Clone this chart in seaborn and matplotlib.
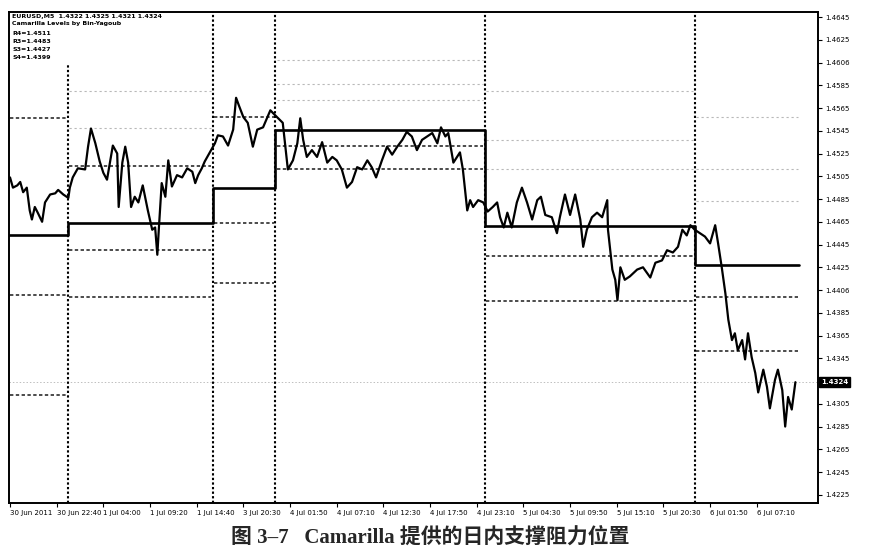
import matplotlib
matplotlib.use("Agg")
import numpy as np
import pandas as pd
import matplotlib.pyplot as plt
import matplotlib.transforms as mtransforms
from matplotlib.patches import Rectangle
import seaborn as sns

# EURUSD M5 close, sampled along the chart (bar index, price)
bars = [0, 4, 10, 14, 18, 23, 27, 30, 34, 38,
        44, 48, 55, 62, 66, 73, 80, 82, 86, 93,
        103, 107, 111, 117, 123, 128, 133, 137, 141, 147,
        149, 154, 158, 162, 166, 171, 176, 182, 189, 195,
        199, 202, 204, 208, 213, 217, 222, 229, 236, 243,
        250, 254, 258, 263, 267, 274, 281, 285, 292, 299,
        306, 310, 314, 320, 326, 333, 339, 347, 357, 363,
        374, 381, 388, 394, 398, 402, 407, 414, 421, 428,
        435, 442, 448, 455, 462, 469, 476, 483, 490, 496,
        502, 510, 517, 524, 531, 538, 544, 551, 558, 565,
        572, 579, 586, 591, 597, 601, 608, 613, 617, 621,
        627, 631, 635, 642, 649, 655, 662, 668, 672, 677,
        682, 688, 695, 702, 709, 716, 723, 728, 734, 743,
        750, 754, 761, 768, 775, 782, 786, 791, 798, 805,
        812, 819, 820, 826, 830, 833, 837, 843, 850, 860,
        868, 878, 885, 894, 901, 909, 916, 922, 928, 933,
        939, 946, 953, 960, 967, 971, 976, 981, 985, 990,
        994, 998, 1004, 1008, 1012, 1017, 1022, 1026, 1033, 1038,
        1042, 1049, 1053, 1059, 1063, 1067, 1072, 1077]

prices = [1.4504, 1.4495, 1.4497, 1.4500, 1.4491, 1.4495, 1.4475, 1.4467, 1.4478, 1.4473,
          1.4465, 1.4482, 1.4489, 1.4490, 1.4493, 1.4489, 1.4486, 1.4495, 1.4504, 1.4512,
          1.4511, 1.4531, 1.4547, 1.4534, 1.4518, 1.4508, 1.4502, 1.4517, 1.4532, 1.4525,
          1.4478, 1.4517, 1.4531, 1.4517, 1.4478, 1.4487, 1.4482, 1.4497, 1.4475, 1.4458,
          1.4460, 1.4436, 1.4458, 1.4499, 1.4487, 1.4519, 1.4496, 1.4506, 1.4504, 1.4512,
          1.4509, 1.4499, 1.4506, 1.4512, 1.4518, 1.4526, 1.4534, 1.4541, 1.4540, 1.4532,
          1.4546, 1.4574, 1.4567, 1.4557, 1.4552, 1.4531, 1.4546, 1.4548, 1.4563, 1.4559,
          1.4552, 1.4511, 1.4519, 1.4534, 1.4556, 1.4537, 1.4522, 1.4528, 1.4522, 1.4535,
          1.4517, 1.4522, 1.4519, 1.4511, 1.4495, 1.4500, 1.4513, 1.4511, 1.4519, 1.4513,
          1.4504, 1.4519, 1.4531, 1.4524, 1.4531, 1.4537, 1.4544, 1.4540, 1.4528, 1.4537,
          1.4540, 1.4543, 1.4534, 1.4548, 1.4540, 1.4543, 1.4517, 1.4522, 1.4526, 1.4511,
          1.4475, 1.4484, 1.4478, 1.4484, 1.4482, 1.4474, 1.4478, 1.4482, 1.4469, 1.4460,
          1.4473, 1.4460, 1.4482, 1.4495, 1.4482, 1.4467, 1.4484, 1.4487, 1.4471, 1.4469,
          1.4455, 1.4469, 1.4489, 1.4471, 1.4489, 1.4467, 1.4443, 1.4458, 1.4469, 1.4473,
          1.4469, 1.4484, 1.4458, 1.4423, 1.4414, 1.4396, 1.4425, 1.4414, 1.4417, 1.4423,
          1.4425, 1.4416, 1.4429, 1.4431, 1.4440, 1.4438, 1.4443, 1.4458, 1.4453, 1.4462,
          1.4458, 1.4455, 1.4452, 1.4446, 1.4462, 1.4446, 1.4425, 1.4402, 1.4379, 1.4361,
          1.4367, 1.4352, 1.4361, 1.4344, 1.4367, 1.4346, 1.4332, 1.4315, 1.4335, 1.4320,
          1.4301, 1.4326, 1.4335, 1.4317, 1.4285, 1.4311, 1.4300, 1.4324]

# daily Camarilla levels
day_starts = [-2, 79, 278, 364, 651, 939]
day_ends = [79, 278, 364, 651, 939, 1082]
main_levels = [1.4453, 1.4464, 1.4495, 1.4546, 1.4461, 1.4427]
dark_levels = [[1.4556, 1.4401, 1.4313],
               [1.4514, 1.4440, 1.4399],
               [1.4557, 1.4464, 1.4411],
               [1.4532, 1.4511],
               [1.4435, 1.4395],
               [1.4399, 1.4351]]
light_levels = [[],
                [1.4580, 1.4547],
                [],
                [1.4607, 1.4586, 1.4572],
                [1.4580, 1.4537, 1.4511],
                [1.4557, 1.4511, 1.4483]]
bid = 1.4324

x_tick_bars = list(range(0, 1025, 64))
x_tick_labels = ["30 Jun 2011", "30 Jun 22:40", "1 Jul 04:00", "1 Jul 09:20",
                 "1 Jul 14:40", "3 Jul 20:30", "4 Jul 01:50", "4 Jul 07:10",
                 "4 Jul 12:30", "4 Jul 17:50", "4 Jul 23:10", "5 Jul 04:30",
                 "5 Jul 09:50", "5 Jul 15:10", "5 Jul 20:30", "6 Jul 01:50",
                 "6 Jul 07:10"]
y_tick_vals = [1.4645, 1.4625, 1.4605, 1.4585, 1.4565, 1.4545, 1.4525, 1.4505,
               1.4485, 1.4465, 1.4445, 1.4425, 1.4405, 1.4385, 1.4365, 1.4345,
               1.4305, 1.4285, 1.4265, 1.4245, 1.4225]
y_tick_labels = ["1.4645", "1.4625", "1.4606", "1.4585", "1.4565", "1.4545", "1.4525",
                 "1.4505", "1.4485", "1.4465", "1.4445", "1.4425", "1.4406", "1.4385",
                 "1.4365", "1.4345", "1.4305", "1.4285", "1.4265", "1.4245", "1.4225"]

header = ["EURUSD,M5  1.4322 1.4325 1.4321 1.4324",
          "Camarilla Levels by Bin-Yagoub",
          "R4=1.4511", "R3=1.4483", "S3=1.4427", "S4=1.4399"]

sns.set_style("white")
plt.rcParams['font.family'] = ['DejaVu Sans', 'Noto Sans CJK SC']

fig = plt.figure(figsize=(8.78, 5.54), dpi=100)
ax = fig.add_axes([9 / 878, 1 - 503 / 554, 809 / 878, 491 / 554])

df = pd.DataFrame({"bar": bars, "price": prices})

# faint levels, dashed levels
for i in range(len(day_starts)):
    for lv in light_levels[i]:
        ax.hlines(lv, day_starts[i] + 2, day_ends[i] - 2, colors="0.72",
                  linestyles=(0, (2, 2.5)), linewidth=0.8)
    for lv in dark_levels[i]:
        ax.hlines(lv, day_starts[i] + 2, day_ends[i] - 2, colors="0.1",
                  linestyles=(0, (2.2, 1.6)), linewidth=1.1)

# bid line
ax.axhline(bid, color="0.75", linestyle=(0, (1.5, 2)), linewidth=0.7)

# day separators
for b in day_starts[1:]:
    ax.axvline(b, color="black", linestyle=(0, (1.1, 1.1)), linewidth=1.5)

# main level as step line
steps = pd.DataFrame({"bar": day_starts + [day_ends[-1]],
                      "level": main_levels + [main_levels[-1]]})
sns.lineplot(data=steps, x="bar", y="level", ax=ax, color="black",
             linewidth=1.9, drawstyle="steps-post", estimator=None, sort=False)

sns.lineplot(data=df, x="bar", y="price", ax=ax, color="black",
             linewidth=1.6, estimator=None, sort=False)

ax.set_xlim(-1.4, 1108)
ax.set_ylim(1.42178, 1.46494)
ax.set_xlabel("")
ax.set_ylabel("")

ax.yaxis.tick_right()
ax.set_yticks(y_tick_vals, labels=y_tick_labels)
ax.set_xticks(x_tick_bars, labels=x_tick_labels)
for lbl in ax.get_xticklabels():
    lbl.set_ha("left")
    lbl.set_fontsize(4.6)
ax.tick_params(axis="both", labelsize=5, length=3, width=0.8, direction="out",
               pad=2, colors="black")
ax.tick_params(axis="y", left=False, right=True)
ax.tick_params(axis="x", bottom=True)

for sp in ax.spines.values():
    sp.set_visible(True)
    sp.set_color("black")
    sp.set_linewidth(1.4)

# current price box on the price scale
trans = mtransforms.blended_transform_factory(ax.transAxes, ax.transData)
ax.text(1.004, bid, "1.4324", transform=trans, ha="left", va="center",
        fontsize=5, color="white", fontweight="bold",
        bbox=dict(boxstyle="square,pad=0.25", fc="black", ec="black"))

# indicator header on a blank block
ax.add_patch(Rectangle((0.002, 0.895), 0.17, 0.102, transform=ax.transAxes,
                       fc="white", ec="none", zorder=3))
header_y = [0.990, 0.976, 0.957, 0.940, 0.924, 0.908]
for txt, yy in zip(header, header_y):
    ax.text(0.004, yy, txt, transform=ax.transAxes, ha="left", va="center",
            fontsize=4.5, fontweight="bold", color="black", zorder=4)

fig.text(0.49, 1 - 538 / 554, "图 3–7   Camarilla 提供的日内支撑阻力位置",
         ha="center", va="center", fontsize=15, fontweight="bold",
         family=["Liberation Serif", "Noto Sans CJK SC"])

fig.savefig("out.png", dpi=100)
